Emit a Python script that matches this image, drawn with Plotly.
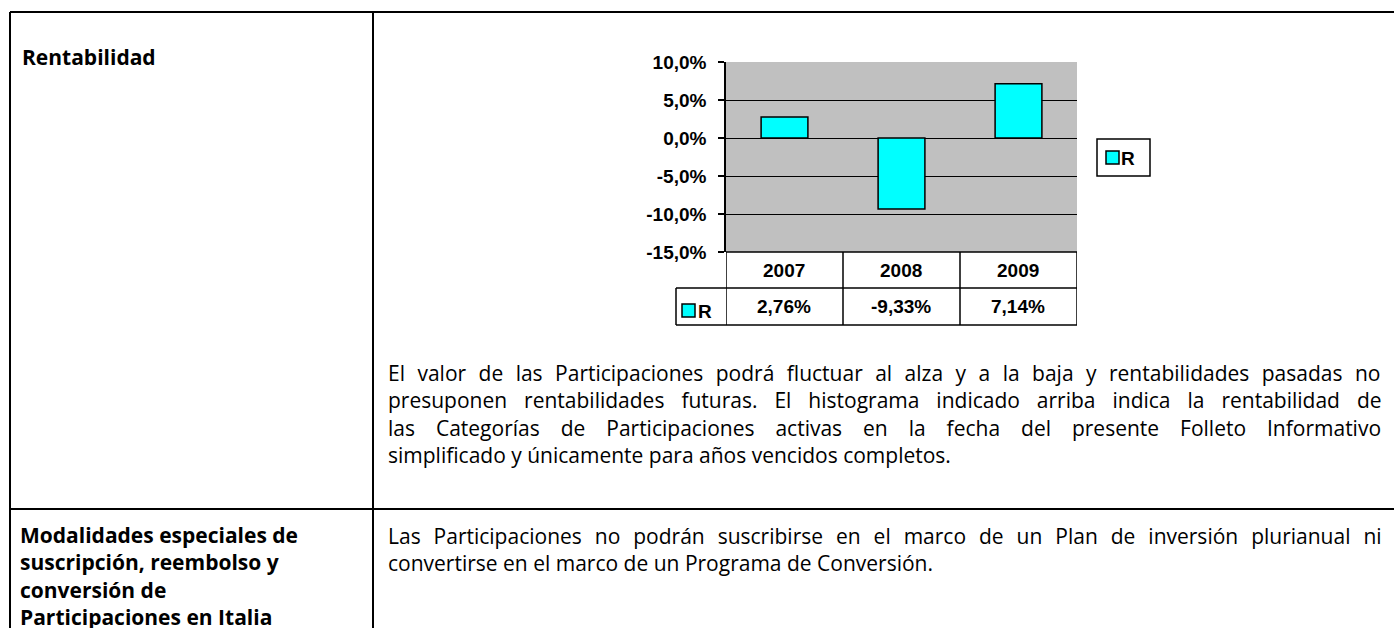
import plotly.graph_objects as go

PAGE_W, PAGE_H = 1394, 628
OFF = 0
W, H = PAGE_W - 2 * OFF, PAGE_H - 2 * OFF

# ---------------- data ----------------
years = ["2007", "2008", "2009"]
returns = [2.76, -9.33, 7.14]
series_name = "R"
ytick_vals = [-15, -10, -5, 0, 5, 10]
ytick_text = ["-15,0%", "-10,0%", "-5,0%", "0,0%", "5,0%", "10,0%"]

heading_1 = "Rentabilidad"
body_1 = [
    "El valor de las Participaciones podrá fluctuar al alza y a la baja y rentabilidades pasadas no",
    "presuponen rentabilidades futuras. El histograma indicado arriba indica la rentabilidad de",
    "las Categorías de Participaciones activas en la fecha del presente Folleto Informativo",
    "simplificado y únicamente para años vencidos completos.",
]
heading_2 = [
    "Modalidades especiales de",
    "suscripción, reembolso y",
    "conversión de",
    "Participaciones en Italia",
]
body_2 = [
    "Las Participaciones no podrán suscribirse en el marco de un Plan de inversión plurianual ni",
    "convertirse en el marco de un Programa de Conversión.",
]
# word spacing (px) used to justify the full lines like the reference
body_1_wordspacing = [7.0, 11.5, 15.5, None]
body_2_wordspacing = [7.5, None]


def px(x):
    return (x - OFF) / W


def py(y):
    return 1 - (y - OFF) / H


CYAN = "#00FFFF"
TXT = "Open Sans"
CHART_FONT = "Liberation Sans"

fig = go.Figure()
fig.add_trace(go.Bar(
    x=list(range(len(years))), y=returns, name=series_name, width=0.4,
    marker=dict(color=CYAN, line=dict(color="black", width=1.5)),
    showlegend=False,
))

shapes = []
annotations = []

# ---- page table borders ----
blk = dict(color="black", width=2)
shapes += [
    dict(type="line", xref="paper", yref="paper", x0=px(10), x1=px(1410), y0=py(12), y1=py(12), line=blk),
    dict(type="line", xref="paper", yref="paper", x0=px(10), x1=px(10), y0=py(12), y1=py(650), line=blk),
    dict(type="line", xref="paper", yref="paper", x0=px(373), x1=px(373), y0=py(12), y1=py(650), line=blk),
    dict(type="line", xref="paper", yref="paper", x0=px(10), x1=px(1410), y0=py(509), y1=py(509), line=blk),
]

# ---- data table under chart ----
tl = dict(color="black", width=1.5)
row_top, row_mid, row_bot = 252, 288, 325
n = len(years)
shapes.append(dict(type="line", xref="x", yref="paper", x0=-0.5, x1=n - 0.5,
                   y0=py(row_top), y1=py(row_top), line=tl))
for yy in (row_mid, row_bot):
    shapes.append(dict(type="line", xref="paper", yref="paper", x0=px(676), x1=px(1077),
                       y0=py(yy), y1=py(yy), line=tl))
for i in range(n + 1):
    shapes.append(dict(type="line", xref="x", yref="paper", x0=i - 0.5, x1=i - 0.5,
                       y0=py(row_top), y1=py(row_bot), line=tl))
shapes.append(dict(type="line", xref="paper", yref="paper", x0=px(676), x1=px(676),
                   y0=py(row_mid), y1=py(row_bot), line=tl))

cf = dict(family=CHART_FONT, size=19, color="black", weight="bold")
for i, (yr, v) in enumerate(zip(years, returns)):
    annotations.append(dict(x=i, y=py((row_top + row_mid) / 2), xref="x", yref="paper",
                            text=yr, showarrow=False, font=cf, xanchor="center", yanchor="middle"))
    annotations.append(dict(x=i, y=py((row_mid + row_bot) / 2), xref="x", yref="paper",
                            text=f"{v:.2f}%".replace(".", ","), showarrow=False, font=cf,
                            xanchor="center", yanchor="middle"))

# table legend key
shapes.append(dict(type="rect", xref="paper", yref="paper", x0=px(682), x1=px(695),
                   y0=py(317), y1=py(304), fillcolor=CYAN, line=dict(color="black", width=1.5)))
annotations.append(dict(x=px(696), y=py(311), xref="paper", yref="paper", text=series_name,
                        showarrow=False, font=cf, xanchor="left", yanchor="middle"))

# side legend
shapes.append(dict(type="rect", xref="paper", yref="paper", x0=px(1097), x1=px(1150),
                   y0=py(176), y1=py(139), fillcolor="white", line=dict(color="black", width=1.5)))
shapes.append(dict(type="rect", xref="paper", yref="paper", x0=px(1106), x1=px(1119),
                   y0=py(164), y1=py(151), fillcolor=CYAN, line=dict(color="black", width=1.5)))
annotations.append(dict(x=px(1119), y=py(158), xref="paper", yref="paper", text=series_name,
                        showarrow=False, font=cf, xanchor="left", yanchor="middle"))

# ---- page text (one annotation per paragraph) ----
bf = dict(family=TXT, size=21, color="black", weight="bold")
rf = dict(family=TXT, size=21, color="black")


def para(x_page, y_first, y_last, lines, font, spacing=None):
    parts = []
    for k, ln in enumerate(lines):
        ws = spacing[k] if spacing else None
        parts.append(f'<span style="word-spacing:{ws}px">{ln}</span>' if ws else ln)
    annotations.append(dict(x=px(x_page), y=py((y_first + y_last) / 2), xref="paper", yref="paper",
                            text="<br>".join(parts), showarrow=False, font=font, align="left",
                            xanchor="left", yanchor="middle"))


para(20, 57, 57, [heading_1], bf)
para(386, 374, 453, body_1, rf, body_1_wordspacing)
para(18, 536, 615, heading_2, bf)
para(386, 536, 562.5, body_2, rf, body_2_wordspacing)

fig.update_layout(
    width=W, height=H,
    autosize=False,
    margin=dict(l=0, r=0, t=0, b=0, pad=0, autoexpand=False),
    paper_bgcolor="white",
    plot_bgcolor="#C0C0C0",
    showlegend=False,
    hovermode=False,
    xaxis=dict(domain=[px(726), px(1077)], range=[-0.5, n - 0.5], showticklabels=False,
               showgrid=False, zeroline=False, showline=False, ticks="", automargin=False),
    yaxis=dict(domain=[py(252), py(62)], range=[-15, 10], tickvals=ytick_vals, ticktext=ytick_text,
               showgrid=True, gridcolor="black", gridwidth=1,
               zeroline=True, zerolinecolor="black", zerolinewidth=1,
               showline=True, linecolor="black", linewidth=1.5,
               ticks="outside", ticklen=6, tickcolor="black", tickwidth=1.5,
               ticklabelstandoff=8, automargin=False,
               tickfont=dict(family=CHART_FONT, size=19, color="black", weight="bold")),
    shapes=shapes,
    annotations=annotations,
)

fig.write_html(
    "out.html",
    config={"displayModeBar": False},
    post_script="document.body.style.margin='0px';document.body.style.overflow='hidden';",
)
